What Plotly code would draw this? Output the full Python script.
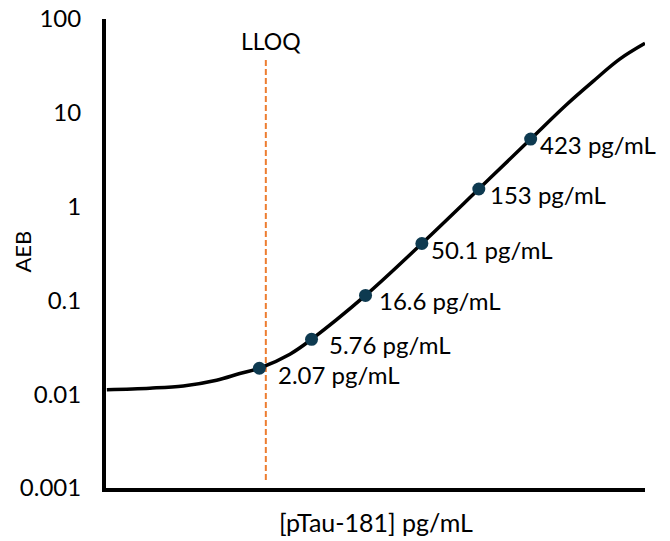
import math
import plotly.graph_objects as go

# Calibration standards (concentration, AEB)
std_conc = [2.07, 5.76, 16.6, 50.1, 153, 423]
std_aeb = [0.0189, 0.0385, 0.113, 0.404, 1.54, 5.25]
std_labels = ["2.07 pg/mL", "5.76 pg/mL", "16.6 pg/mL", "50.1 pg/mL", "153 pg/mL", "423 pg/mL"]

# Fitted curve
curve_conc = [0.104, 0.242, 0.466, 0.895, 1.41, 2.07, 3.77, 5.76, 16.6, 50.1, 153, 423, 853, 1429, 2423, 3980]
curve_aeb = [0.01117, 0.01159, 0.01225, 0.0141, 0.0166, 0.0189, 0.0267, 0.0385, 0.113, 0.404, 1.54, 5.25, 12.2, 21.5, 37.3, 55.0]

# LLOQ marker line
lloq_conc = 2.35
lloq_span = [0.00122, 36.6]

y_tickvals = [0.001, 0.01, 0.1, 1, 10, 100]
y_ticktext = ["0.001", "0.01", "0.1", "1", "10", "100"]

# label placement offsets (pixels), styling only
label_dx = [17, 15, 11, 7, 9, 7]
label_dy = [-6, -5, -5, -6, -5, -5]

FONT = "Lato"

fig = go.Figure()
fig.add_trace(go.Scatter(
    x=[lloq_conc, lloq_conc], y=lloq_span, mode="lines",
    line=dict(color="#ED7D31", width=2, dash="6px,3px"),
    hoverinfo="skip", showlegend=False))
fig.add_trace(go.Scatter(
    x=curve_conc, y=curve_aeb, mode="lines",
    line=dict(color="black", width=3.5, shape="spline", smoothing=1.0),
    showlegend=False))
fig.add_trace(go.Scatter(
    x=std_conc, y=std_aeb, mode="markers",
    marker=dict(color="#0E3A50", size=13),
    showlegend=False))

for c, a, t, dx, dy in zip(std_conc, std_aeb, std_labels, label_dx, label_dy):
    fig.add_annotation(x=math.log10(c), y=math.log10(a), text=t, showarrow=False,
                       xanchor="left", yanchor="middle", xshift=dx, yshift=dy,
                       font=dict(family=FONT, size=24, color="black"))

fig.add_annotation(x=math.log10(lloq_conc), y=math.log10(lloq_span[1]), text="LLOQ",
                   showarrow=False, xanchor="center", yanchor="bottom", xshift=5, yshift=3,
                   font=dict(family=FONT, size=23, color="black"))

# Axis titles
fig.add_annotation(xref="paper", yref="paper", x=0.5, y=-0.072, text="[pTau-181] pg/mL",
                   showarrow=False, xanchor="center", yanchor="middle",
                   font=dict(family=FONT, size=25, color="black"))
fig.add_annotation(xref="paper", yref="paper", x=-0.155, y=0.505, text="AEB", textangle=-90,
                   showarrow=False, xanchor="center", yanchor="middle",
                   font=dict(family=FONT, size=22, color="black"))

fig.update_layout(
    width=670, height=541,
    margin=dict(l=106, r=25, t=19, b=53),
    paper_bgcolor="white", plot_bgcolor="white",
    font=dict(family=FONT, color="black"),
)
fig.update_xaxes(type="log", range=[-0.99, 3.60], showgrid=False, zeroline=False,
                 showline=True, linewidth=4, linecolor="black", showticklabels=False,
                 ticks="", automargin=False)
fig.update_yaxes(type="log", range=[-3, 2], showgrid=False, zeroline=False,
                 showline=True, linewidth=4, linecolor="black",
                 tickvals=y_tickvals, ticktext=y_ticktext, ticks="",
                 ticklabelstandoff=16, automargin=False,
                 tickfont=dict(family=FONT, size=24))

fig.write_html("out.html", config={"displayModeBar": False},
               post_script="document.body.style.margin='0';document.body.style.overflow='hidden';")
